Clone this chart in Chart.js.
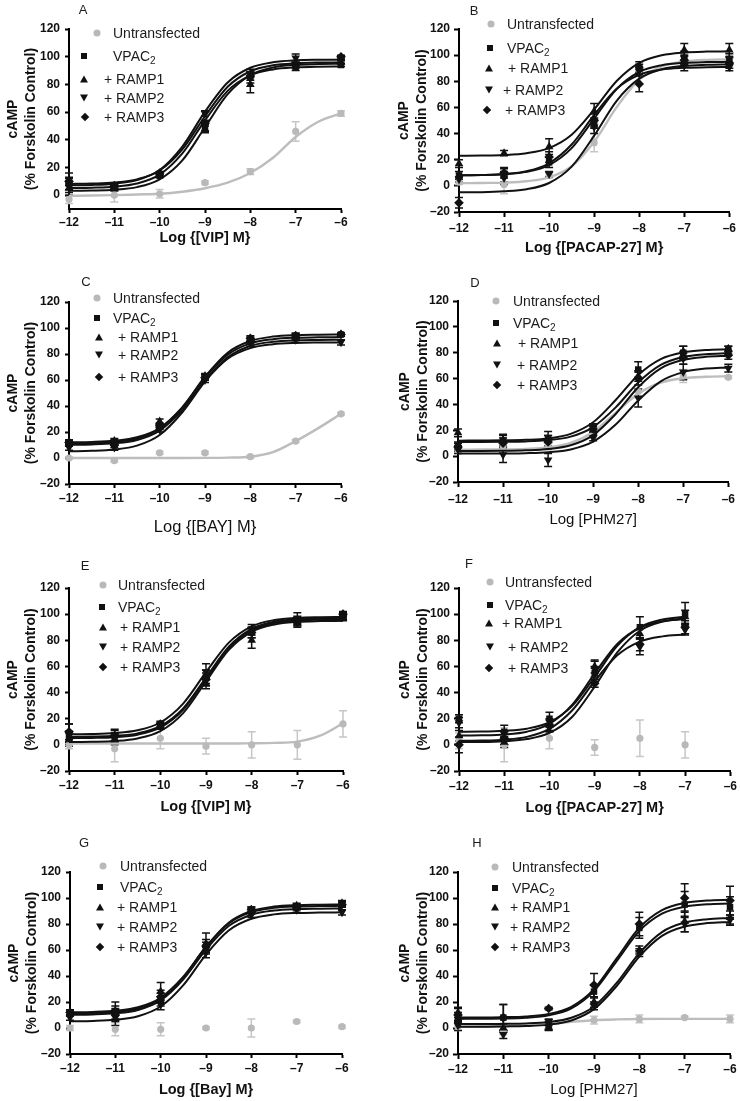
<!DOCTYPE html>
<html>
<head>
<meta charset="utf-8">
<script src="https://cdn.jsdelivr.net/npm/chart.js@4.4.1/dist/chart.umd.min.js"></script>
<style>
  body { margin: 0; background: #fff; width: 740px; height: 1101px; position: relative; overflow: hidden;
         font-family: "Liberation Sans", Arial, sans-serif; }
  canvas { position: absolute; }
  .lg { position: absolute; font-size: 14px; line-height: 16px; color: #1c1c1c; white-space: nowrap; transform: translateY(-50%); }
  .lg sub { font-size: 10px; vertical-align: -3px; line-height: 0; }
  .mk { position: absolute; transform: translate(-50%, -50%); }
  .letter { position: absolute; font-size: 13px; color: #1c1c1c; transform: translate(-50%, -50%); }
</style>
</head>
<body>
<script>
const doseX = [-12, -11, -10, -9, -8, -7, -6];
const doseXF = [-12, -11, -10, -9, -8, -7];
const fitX = [-12, -11.5, -11, -10.5, -10, -9.5, -9, -8.5, -8, -7.5, -7, -6.5, -6];
const xTicks = [-12, -11, -10, -9, -8, -7, -6];
const yTicks = [-20, 0, 20, 40, 60, 80, 100, 120];
const yTicksA = [0, 20, 40, 60, 80, 100, 120];
const seriesNames = ['Untransfected', 'VPAC2', '+ RAMP1', '+ RAMP2', '+ RAMP3'];
const panelLetters = ['A', 'B', 'C', 'D', 'E', 'F', 'G', 'H'];
const xTitles = ['Log {[VIP] M}', 'Log {[PACAP-27] M}', 'Log {[BAY] M}', 'Log [PHM27]',
                 'Log {[VIP] M}', 'Log {[PACAP-27] M}', 'Log {[Bay] M}', 'Log [PHM27]'];
const yTitle = ['cAMP', '(% Forskolin Control)'];

// rows: Untransfected, VPAC2, +RAMP1, +RAMP2, +RAMP3
const aMean = [[-3, 0, 1, 9, 17, 46, 59], [8, 6, 14, 50, 85, 92, 94], [5, 5, 14, 48, 80, 94, 96], [8, 7, 15, 59, 88, 99, 99], [10, 7, 16, 52, 86, 94, 100]];
const aSem = [[3, 5, 3, 1, 2, 7, 2], [4, 2, 1, 4, 4, 2, 1], [3, 2, 1, 3, 6, 2, 1], [8, 2, 1, 2, 3, 3, 1], [3, 2, 1, 2, 3, 2, 1]];
const aFit = [
  [-0.5, -0.3, 0, 0.5, 1, 2.5, 5, 9, 16, 27, 42, 53, 59],
  [5.1, 5.4, 6.1, 8.4, 14.8, 30.1, 54.0, 75.3, 86.5, 90.8, 92.3, 92.8, 92.9],
  [3.1, 3.3, 3.9, 5.8, 11.4, 25.1, 49.0, 72.9, 86.6, 92.2, 94.1, 94.7, 94.9],
  [7.1, 7.4, 8.3, 10.9, 18.2, 35.1, 60.3, 81.4, 92.0, 96.0, 97.4, 97.8, 97.9],
  [8.1, 8.4, 9.1, 11.4, 17.8, 33.1, 57.0, 78.3, 89.5, 93.8, 95.3, 95.8, 95.9]];

const bMean = [[3, 1, 8, 33, 88, 97, 96], [8, 8, 18, 48, 90, 98, 97], [17, 25, 30, 57, 92, 104, 104], [5, 6, 9, 45, 88, 92, 91], [-13, 10, 22, 50, 78, 96, 94]];
const bSem = [[2, 7, 2, 7, 3, 4, 3], [3, 5, 4, 4, 3, 5, 4], [3, 2, 6, 6, 3, 5, 5], [2, 5, 2, 5, 3, 4, 3], [4, 4, 4, 5, 6, 4, 4]];
const bFit = [
  [2.0, 2.2, 2.5, 3.5, 6.5, 15.0, 33.7, 60.2, 81.2, 91.4, 95.1, 96.4, 96.8],
  [8.1, 8.3, 8.9, 10.7, 15.9, 28.9, 51.5, 74.1, 87.1, 92.3, 94.1, 94.7, 94.9],
  [23.1, 23.2, 23.6, 25.0, 28.9, 39.1, 58.4, 80.2, 94.1, 99.9, 102.0, 102.7, 102.9],
  [8.1, 8.3, 9.0, 11.2, 17.3, 31.6, 54.3, 74.3, 84.9, 89.0, 90.3, 90.8, 90.9],
  [-4.9, -4.8, -4.2, -2.6, 2.2, 14.7, 38.4, 65.1, 82.0, 89.2, 91.8, 92.6, 92.9]];

const cMean = [[0, -2, 4, 4, 1, 13, 34], [12, 12, 24, 62, 90, 93, 95], [11, 13, 28, 63, 91, 94, 95], [8, 8, 22, 60, 88, 91, 89], [12, 10, 25, 62, 92, 94, 95]];
const cSem = [[1, 1, 1, 1, 1, 1, 1], [1, 2, 2, 2, 2, 2, 1], [2, 2, 2, 2, 2, 2, 1], [2, 2, 2, 2, 2, 2, 2], [2, 2, 2, 2, 2, 2, 1]];
const cFit = [
  [0, 0, 0, 0, 0, 0, 0.1, 0.3, 1, 4.5, 13, 23, 34],
  [11.1, 11.4, 12.3, 15.0, 22.5, 39.0, 62.5, 81.0, 90.0, 93.4, 94.5, 94.8, 95.0],
  [12.1, 12.4, 13.3, 15.9, 23.1, 39.0, 61.7, 79.5, 88.2, 91.4, 92.5, 92.8, 93.0],
  [5.2, 5.5, 6.5, 9.5, 17.7, 35.2, 58.8, 76.3, 84.5, 87.5, 88.5, 88.8, 88.9],
  [10.1, 10.4, 11.3, 13.9, 21.1, 37.0, 59.7, 77.5, 86.2, 89.4, 90.5, 90.8, 91.0]];

const dMean = [[5, 8, 8, 20, 50, 62, 61], [8, 12, 13, 22, 67, 80, 82], [18, 12, 12, 20, 62, 81, 83], [5, 1, -3, 14, 45, 65, 68], [7, 10, 11, 21, 60, 76, 78]];
const dSem = [[2, 3, 3, 2, 5, 5, 1], [3, 5, 6, 3, 6, 5, 3], [3, 4, 4, 3, 4, 4, 2], [3, 6, 5, 2, 7, 6, 3], [3, 4, 5, 3, 5, 5, 3]];
const dFit = [
  [5.0, 5.1, 5.2, 5.6, 6.7, 10.2, 18.7, 33.5, 48.3, 56.8, 60.3, 61.4, 61.8],
  [12.0, 12.1, 12.2, 12.6, 13.7, 17.2, 26.2, 43.4, 62.8, 75.1, 80.3, 82.1, 82.7],
  [11.0, 11.0, 11.1, 11.4, 12.4, 15.1, 22.5, 37.7, 57.0, 70.6, 76.7, 78.9, 79.7],
  [2.0, 2.0, 2.1, 2.3, 3.0, 5.2, 11.2, 24.4, 43.1, 57.9, 65.0, 67.7, 68.6],
  [4.0, 4.0, 4.1, 4.5, 5.5, 8.4, 16.3, 32.6, 53.3, 67.9, 74.5, 76.8, 77.6]];

const eMean = [[0, -3, 5, -1, 0, 0, 16], [6, 6, 14, 52, 86, 94, 98], [4, 4, 14, 47, 80, 93, 97], [9, 7, 15, 56, 88, 97, 99], [10, 7, 16, 50, 86, 95, 100]];
const eSem = [[3, 10, 8, 6, 10, 11, 10], [4, 3, 2, 5, 4, 3, 2], [5, 4, 2, 4, 6, 3, 2], [7, 5, 2, 6, 4, 4, 2], [6, 4, 2, 5, 4, 3, 2]];
const eFit = [
  [1, 1, 1, 1, 1, 1, 1, 1, 1.2, 1.5, 2.5, 7, 16.5],
  [5.1, 5.3, 5.9, 7.8, 13.3, 26.9, 50.5, 74.1, 87.7, 93.2, 95.1, 95.7, 95.9],
  [2.1, 2.3, 2.9, 4.9, 10.5, 24.3, 48.5, 72.7, 86.5, 92.1, 94.1, 94.7, 94.9],
  [8.1, 8.3, 9.0, 11.1, 17.1, 31.6, 55.6, 78.2, 90.6, 95.5, 97.2, 97.7, 97.9],
  [6.1, 6.3, 6.9, 8.8, 14.3, 27.9, 51.5, 75.1, 88.7, 94.2, 96.1, 96.7, 96.9]];

// panel F stops at -7
const fMean = [[3, 0, 5, -2, 5, 0], [20, 10, 20, 55, 90, 100], [7, 2, 15, 60, 85, 98], [17, 5, 13, 58, 75, 88], [0, 5, 15, 47, 77, 90]];
const fSem = [[6, 13, 8, 6, 14, 10], [3, 5, 5, 5, 8, 9], [4, 4, 4, 5, 4, 5], [4, 5, 3, 6, 6, 4], [6, 5, 5, 3, 5, 5]];
const fFit = [
  null,
  [10.1, 10.2, 10.8, 12.4, 17.3, 29.6, 51.9, 75.7, 90.0, 95.9, 98.0],
  [7.1, 7.3, 8.0, 10.1, 16.1, 30.6, 54.6, 77.2, 89.6, 94.5, 96.2],
  [3.1, 3.3, 4.0, 6.1, 12.2, 26.3, 48.7, 68.5, 79.0, 83.0, 84.4],
  [2.1, 2.2, 2.8, 4.4, 9.1, 21.3, 44.5, 70.7, 87.3, 94.3, 96.8]];

const gMean = [[0, -1, -1, 0, 0, 5, 1], [12, 12, 22, 62, 90, 93, 95], [11, 13, 28, 65, 91, 94, 96], [8, 8, 18, 58, 87, 91, 89], [12, 10, 24, 63, 91, 93, 95]];
const gSem = [[2, 5, 5, 1, 7, 1, 1], [2, 5, 5, 4, 2, 2, 2], [2, 7, 7, 8, 2, 2, 2], [2, 6, 4, 4, 2, 2, 2], [2, 5, 5, 5, 2, 2, 2]];
const gFit = [
  null,
  [11.1, 11.4, 12.3, 15.0, 22.5, 39.0, 62.5, 81.0, 90.0, 93.4, 94.5, 94.8, 95.0],
  [12.1, 12.4, 13.3, 15.9, 23.2, 39.4, 62.3, 80.4, 89.1, 92.4, 93.5, 93.8, 94.0],
  [5.1, 5.4, 6.3, 9.0, 16.5, 33.0, 56.5, 75.0, 84.0, 87.4, 88.5, 88.8, 89.0],
  [10.1, 10.4, 11.3, 13.9, 21.2, 37.4, 60.3, 78.4, 87.1, 90.4, 91.5, 91.8, 92.0]];

const hMean = [[1, -2, 2, 6, 7, 8, 7], [8, 8, 2, 28, 77, 95, 93], [12, 0, 0, 20, 60, 82, 85], [2, -5, 5, 17, 58, 80, 83], [10, 8, 15, 33, 80, 100, 98]];
const hSem = [[3, 3, 2, 3, 3, 1, 3], [4, 10, 3, 5, 8, 10, 8], [4, 3, 2, 4, 3, 8, 5], [4, 3, 2, 3, 3, 6, 4], [5, 10, 1, 9, 9, 11, 11]];
const hFit = [
  [1.0, 1.1, 1.3, 1.8, 3.0, 4.7, 6.0, 6.6, 6.9, 7.0, 7.0, 7.0, 7.0],
  [7.0, 7.1, 7.3, 7.9, 9.7, 15.1, 28.4, 51.5, 74.6, 87.9, 93.3, 95.1, 95.7],
  [3.0, 3.0, 3.2, 3.5, 4.6, 7.9, 16.6, 34.7, 57.6, 73.8, 81.1, 83.7, 84.6],
  [1.0, 1.0, 1.2, 1.5, 2.6, 5.8, 14.5, 32.3, 55.0, 70.9, 78.1, 80.7, 81.6],
  [8.0, 8.1, 8.3, 8.9, 10.8, 16.3, 29.9, 53.5, 77.1, 90.7, 96.2, 98.1, 98.7]];

const panelData = [
  [aMean, aSem, aFit, doseX], [bMean, bSem, bFit, doseX], [cMean, cSem, cFit, doseX], [dMean, dSem, dFit, doseX],
  [eMean, eSem, eFit, doseX], [fMean, fSem, fFit, doseXF], [gMean, gSem, gFit, doseX], [hMean, hSem, hFit, doseX]];

// ---- layout (page pixels) ----
const bold14 = { size: 14.5, weight: 'bold' };
const panelLayout = [
  { col: 0,   row: 0,   h: 275, axisX: 69,  right: 341, top: 29,  bottom: 209, yMin: -10, yTitleX: 13, tick: 4, tickPad: 2, titleY: 238,  titleFont: bold14, letter: [83, 9] },
  { col: 370, row: 0,   h: 275, axisX: 459, right: 732, top: 29,  bottom: 212, yMin: -20, yTitleX: 34, tick: 5, tickPad: 4, titleY: 248,  titleFont: bold14, letter: [474, 10] },
  { col: 0,   row: 275, h: 275, axisX: 69,  right: 341, top: 302, bottom: 484, yMin: -20, yTitleX: 13, tick: 4, tickPad: 3, titleY: 527,  titleFont: { size: 16.5, weight: 'normal' }, letter: [86, 281] },
  { col: 370, row: 275, h: 275, axisX: 458, right: 730, top: 301, bottom: 482, yMin: -20, yTitleX: 35, tick: 5, tickPad: 5, titleY: 520,  titleFont: { size: 15, weight: 'normal' }, letter: [475, 282] },
  { col: 0,   row: 550, h: 275, axisX: 69,  right: 343, top: 588, bottom: 771, yMin: -20, yTitleX: 13, tick: 4, tickPad: 3, titleY: 807,  titleFont: bold14, letter: [85, 565] },
  { col: 370, row: 550, h: 275, axisX: 459, right: 732, top: 588, bottom: 771, yMin: -20, yTitleX: 35, tick: 5, tickPad: 3, titleY: 808,  titleFont: bold14, letter: [469, 563] },
  { col: 0,   row: 825, h: 276, axisX: 70,  right: 342, top: 872, bottom: 1054, yMin: -20, yTitleX: 14, tick: 4, tickPad: 3, titleY: 1090, titleFont: bold14, letter: [84, 842] },
  { col: 370, row: 825, h: 276, axisX: 458, right: 730, top: 872, bottom: 1054, yMin: -20, yTitleX: 35, tick: 5, tickPad: 3, titleY: 1090, titleFont: { size: 15, weight: 'normal' }, letter: [477, 842] }];

// legend rows: [marker x, text x, centre y]
const legendPos = [
  [[97, 113, 33], [84, 113, 56], [84, 104, 79], [84, 104, 98], [85, 104, 117]],
  [[491, 507, 24], [490, 507, 48], [489, 508, 68], [489, 503, 90], [487, 505, 110]],
  [[97, 113, 298], [97, 113, 318], [99, 118, 337], [99, 118, 355], [99, 118, 377]],
  [[496, 513, 301], [496, 513, 323], [497, 518, 343], [497, 517, 365], [497, 517, 385]],
  [[103, 118, 585], [102, 118, 607], [103, 120, 627], [103, 120, 647], [103, 120, 667]],
  [[490, 505, 582], [490, 505, 605], [489, 502, 623], [490, 508, 647], [489, 508, 668]],
  [[103, 120, 866], [100, 120, 887], [100, 117, 907], [100, 117, 927], [100, 117, 947]],
  [[495, 512, 867], [495, 512, 888], [495, 510, 907], [495, 510, 927], [495, 510, 947]]];

const GREY = '#b9b9b9';
const INK = '#111';
const styles = [
  { shape: 'circle',   r: 3.6, rot: 0,   color: GREY, err: '#c6c6c6', line: '#bdbdbd', lw: 2.4, css: 'width:7px;height:7px;border-radius:50%;background:' + GREY },
  { shape: 'rect',     r: 4.6, rot: 0,   color: INK,  err: INK, line: INK, lw: 2, css: 'width:6px;height:6px;background:' + INK },
  { shape: 'triangle', r: 5,   rot: 0,   color: INK,  err: INK, line: INK, lw: 2, css: 'width:0;height:0;border-left:4px solid transparent;border-right:4px solid transparent;border-bottom:7px solid ' + INK },
  { shape: 'triangle', r: 5,   rot: 180, color: INK,  err: INK, line: INK, lw: 2, css: 'width:0;height:0;border-left:4px solid transparent;border-right:4px solid transparent;border-top:7px solid ' + INK },
  { shape: 'rectRot',  r: 4.8, rot: 0,   color: INK,  err: INK, line: INK, lw: 2, css: 'width:6px;height:6px;background:' + INK + ';transform:translate(-50%,-50%) rotate(45deg)' }];

Chart.defaults.font.family = '"Liberation Sans", Arial, sans-serif';

const errorBars = {
  id: 'errorBars',
  beforeDatasetsDraw(chart) {
    const ctx = chart.ctx, ys = chart.scales.y;
    chart.data.datasets.forEach((ds, i) => {
      if (!ds.errors) return;
      const meta = chart.getDatasetMeta(i);
      ctx.save();
      ctx.strokeStyle = ds.errColor;
      ctx.lineWidth = 1.5;
      meta.data.forEach((pt, j) => {
        const e = ds.errors[j];
        if (!e) return;
        const v = ds.data[j].y;
        const y1 = ys.getPixelForValue(v + e), y2 = ys.getPixelForValue(v - e);
        ctx.beginPath();
        ctx.moveTo(pt.x, y1); ctx.lineTo(pt.x, y2);
        ctx.moveTo(pt.x - 4, y1); ctx.lineTo(pt.x + 4, y1);
        ctx.moveTo(pt.x - 4, y2); ctx.lineTo(pt.x + 4, y2);
        ctx.stroke();
      });
      ctx.restore();
    });
  }
};

const dash = v => (v < 0 ? '\u2013' + Math.abs(v) : '' + v);

function buildDatasets(mean, sem, fit, xs) {
  const out = [];
  styles.forEach((st, k) => {
    if (fit[k]) {
      out.push({
        type: 'line', data: fit[k].map((y, i) => ({ x: fitX[i], y })),
        borderColor: st.line, borderWidth: st.lw, pointRadius: 0, fill: false,
        cubicInterpolationMode: 'monotone', clip: false, order: k === 0 ? 4 : 2
      });
    }
    out.push({
      type: 'scatter', data: mean[k].map((y, i) => ({ x: xs[i], y })),
      errors: sem[k], errColor: st.err,
      backgroundColor: st.color, borderColor: st.color, borderWidth: 0,
      pointStyle: st.shape, pointRotation: st.rot, pointRadius: st.r,
      clip: false, order: k === 0 ? 3 : 1
    });
  });
  return out;
}

panelLayout.forEach((p, n) => {
  const [mean, sem, fit, xs] = panelData[n];
  const cv = document.createElement('canvas');
  cv.width = 370; cv.height = p.h;
  cv.style.left = p.col + 'px'; cv.style.top = p.row + 'px';
  document.body.appendChild(cv);

  const xH = p.row + p.h - p.bottom;
  const titleLH = p.titleFont.size * 1.2;
  new Chart(cv, {
    type: 'scatter',
    data: { datasets: buildDatasets(mean, sem, fit, xs) },
    options: {
      responsive: false, animation: false, devicePixelRatio: 1, events: [],
      layout: { padding: { left: 0, top: p.top - p.row, right: p.col + 370 - p.right, bottom: 0 } },
      plugins: { legend: { display: false }, tooltip: { enabled: false } },
      scales: {
        x: {
          type: 'linear', min: -12, max: -6,
          afterBuildTicks: s => { s.ticks = xTicks.map(v => ({ value: v })); },
          afterFit: s => { s.height = xH; },
          grid: { display: true, drawOnChartArea: false, drawTicks: true, tickLength: p.tick, tickWidth: 2, tickColor: '#000' },
          border: { display: true, color: '#000', width: 2 },
          ticks: { autoSkip: false, maxRotation: 0, padding: p.tickPad, color: INK,
                   font: { size: 12, weight: 'bold' }, callback: v => dash(v) },
          title: { display: true, text: xTitles[n], color: INK, font: p.titleFont,
                   padding: { top: 0, bottom: p.row + p.h - p.titleY - titleLH / 2 } }
        },
        y: {
          type: 'linear', min: p.yMin, max: 120,
          afterBuildTicks: s => { s.ticks = (p.yMin === -10 ? yTicksA : yTicks).map(v => ({ value: v })); },
          afterFit: s => { s.width = p.axisX - p.col; },
          grid: { display: true, drawOnChartArea: false, drawTicks: true, tickLength: p.tick, tickWidth: 2, tickColor: '#000' },
          border: { display: true, color: '#000', width: 2 },
          ticks: { padding: 9 - p.tick, color: INK, font: { size: 12, weight: 'bold' }, callback: v => dash(v) },
          title: { display: true, text: yTitle, color: INK, font: { size: 14, weight: 'bold', lineHeight: '18px' },
                   padding: { top: p.yTitleX - 9, bottom: 0 } }
        }
      }
    },
    plugins: [errorBars]
  });

  // panel letter
  const lt = document.createElement('div');
  lt.className = 'letter';
  lt.style.left = p.letter[0] + 'px'; lt.style.top = p.letter[1] + 'px';
  lt.textContent = panelLetters[n];
  document.body.appendChild(lt);

  // legend
  legendPos[n].forEach(([mx, tx, y], k) => {
    const mk = document.createElement('div');
    mk.className = 'mk';
    mk.style.cssText = 'left:' + mx + 'px;top:' + y + 'px;' + styles[k].css;
    document.body.appendChild(mk);
    const tg = document.createElement('div');
    tg.className = 'lg';
    tg.style.left = tx + 'px'; tg.style.top = y + 'px';
    if (seriesNames[k] === 'VPAC2') tg.innerHTML = 'VPAC<sub>2</sub>';
    else tg.textContent = seriesNames[k];
    document.body.appendChild(tg);
  });
});
</script>
</body>
</html>
